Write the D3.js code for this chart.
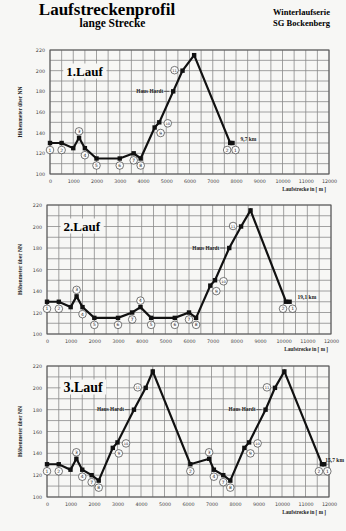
<!DOCTYPE html>
<html><head><meta charset="utf-8">
<script src="https://cdn.jsdelivr.net/npm/d3@7"></script>
<style>body{margin:0;background:#f7f7f5}svg{display:block}</style>
</head><body><svg id="c" width="346" height="531"></svg>
<script>
// ---- data ----
const xTicks = [0,1000,2000,3000,4000,5000,6000,7000,8000,9000,10000,11000,12000];
const yTicks = [100,120,140,160,180,200,220];
const runNames = ["1.Lauf","2.Lauf","3.Lauf"];
const endLabels = ["9,7 km","19,1 km","15,7 km"];

const run1Dist = [0,500,1000,1250,1500,2000,3000,3600,3900,4500,4700,5300,5700,6200,7750,7850];
const run1Elev = [130,130,125,135,125,115,115,120,115,145,150,180,200,215,130,130];
const run1Labels = [[0,"1","b"],[1,"2","b"],[3,"3","a"],[4,"4","b"],[5,"5","b"],[6,"6","b"],[7,"7","b"],[8,"8","b"],[9,"9","br"],[10,"10","r"],[12,"11","l"],[14,"2","bl"],[15,"1","bR"]];
const run1Hardt = [11];

const run2Dist = [0,500,1000,1250,1500,2000,3000,3600,3950,4400,5400,6000,6300,6900,7100,7700,8200,8600,10100,10250];
const run2Elev = [130,130,125,135,125,115,115,120,125,115,115,120,115,145,150,180,200,215,130,130];
const run2Labels = [[0,"1","b"],[1,"2","b"],[3,"3","a"],[4,"4","b"],[5,"5","b"],[6,"6","b"],[7,"7","b"],[8,"4","a"],[9,"5","b"],[10,"6","b"],[11,"7","b"],[12,"8","b"],[13,"9","br"],[14,"10","r"],[16,"11","l"],[18,"2","bl"],[19,"1","bR"]];
const run2Hardt = [15];

const run3Dist = [0,500,1000,1250,1500,1900,2200,2800,3000,3700,4200,4500,6100,6900,7100,7500,7800,8400,8600,9300,9700,10100,11700,11800];
const run3Elev = [130,130,125,135,125,120,115,145,150,180,200,215,130,135,125,120,115,145,150,180,200,215,130,130];
const run3Labels = [[0,"1","b"],[1,"2","b"],[3,"3","a"],[4,"4","b"],[5,"7","b"],[6,"8","b"],[7,"9","br"],[8,"10","r"],[10,"11","l"],[12,"2","b"],[13,"3","a"],[14,"4","b"],[15,"7","b"],[16,"8","b"],[17,"9","br"],[18,"10","r"],[20,"11","l"],[22,"2","bl"],[23,"1","bR"]];
const run3Hardt = [9,19];

// ---- layout ----
const runs = [
  {dist:run1Dist, elev:run1Elev, labels:run1Labels, hardt:run1Hardt},
  {dist:run2Dist, elev:run2Elev, labels:run2Labels, hardt:run2Hardt},
  {dist:run3Dist, elev:run3Elev, labels:run3Labels, hardt:run3Hardt}
];
const boxes = [{l:50,r:329,t:50,b:174,ts:13},{l:47,r:331,t:205,b:334,ts:13},{l:47,r:329,t:366,b:497,ts:14}];
const off = {b:[0,7],a:[0,-6.5],r:[8.5,1],l:[-8,-0.5],br:[6,5.5],bl:[-3,7],bR:[3,7]};
const BG = "#f7f7f5";
const serif = "'Liberation Serif','Times New Roman',serif";
const sans = "'DejaVu Sans',sans-serif";

const svg = d3.select("#c");
svg.append("rect").attr("width",346).attr("height",531).attr("fill",BG);

// header
svg.append("text").attr("x",107).attr("y",14.5).attr("text-anchor","middle")
  .attr("font-family",serif).attr("font-weight","bold").attr("font-size",17).text("Laufstreckenprofil");
svg.append("text").attr("x",112.5).attr("y",27).attr("text-anchor","middle")
  .attr("font-family",serif).attr("font-weight","bold").attr("font-size",11.5).text("lange Strecke");
svg.append("text").attr("x",301.5).attr("y",14.5).attr("text-anchor","middle")
  .attr("font-family",serif).attr("font-weight","bold").attr("font-size",8.5).text("Winterlaufserie");
svg.append("text").attr("x",301.5).attr("y",26).attr("text-anchor","middle")
  .attr("font-family",serif).attr("font-weight","bold").attr("font-size",8.5).text("SG Bockenberg");

runs.forEach((run,k)=>{
  const bx = boxes[k];
  const x = d3.scaleLinear().domain([0,12000]).range([bx.l,bx.r]);
  const y = d3.scaleLinear().domain([100,220]).range([bx.b,bx.t]);
  const g = svg.append("g");

  // grid
  const gx = d3.range(0,12001,500), gy = d3.range(100,221,10);
  g.selectAll(".vg").data(gx).join("line")
    .attr("x1",d=>x(d)).attr("x2",d=>x(d)).attr("y1",bx.t).attr("y2",bx.b)
    .attr("stroke","#8a8a8a").attr("stroke-width",0.8);
  g.selectAll(".hg").data(gy).join("line")
    .attr("x1",bx.l).attr("x2",bx.r).attr("y1",d=>y(d)).attr("y2",d=>y(d))
    .attr("stroke","#8a8a8a").attr("stroke-width",0.8);
  g.append("rect").attr("x",bx.l).attr("y",bx.t).attr("width",bx.r-bx.l).attr("height",bx.b-bx.t)
    .attr("fill","none").attr("stroke","#555").attr("stroke-width",1);

  // axes (tick labels)
  const ax = g.append("g").attr("transform",`translate(0,${bx.b})`)
    .call(d3.axisBottom(x).tickValues(xTicks).tickSize(0).tickPadding(6).tickFormat(d3.format("d")));
  ax.select(".domain").remove();
  ax.selectAll("text").attr("font-family",sans).attr("font-size",4.8).attr("fill","#444");
  const ay = g.append("g").attr("transform",`translate(${bx.l},0)`)
    .call(d3.axisLeft(y).tickValues(yTicks).tickSize(0).tickPadding(5).tickFormat(d3.format("d")));
  ay.select(".domain").remove();
  ay.selectAll("text").attr("font-family",sans).attr("font-size",4.8).attr("fill","#444");

  // axis titles
  g.append("text").attr("transform",`translate(22,${(bx.t+bx.b)/2}) rotate(-90)`)
    .attr("text-anchor","middle").attr("font-family",serif).attr("font-weight","bold")
    .attr("font-size",5.5).attr("fill","#222").text("Höhenmeter über NN");
  g.append("text").attr("x",bx.r-3).attr("y",bx.b+17).attr("text-anchor","end")
    .attr("font-family",serif).attr("font-weight","bold").attr("font-size",5.2).attr("fill","#222")
    .text("Laufstrecke in [ m ]");

  // title with white box
  const tt = g.append("text").attr("x",x(700)).attr("y",bx.t+25.5)
    .attr("font-family",serif).attr("font-weight","bold").attr("font-size",bx.ts).text(runNames[k]);
  const bb = tt.node().getBBox();
  g.insert("rect", () => tt.node()).attr("x",bb.x-3).attr("y",bb.y).attr("width",bb.width+6).attr("height",bb.height)
    .attr("fill",BG);

  const pts = run.dist.map((d,i)=>({d, e:run.elev[i]}));
  // line
  g.append("path").datum(pts)
    .attr("d",d3.line().x(p=>x(p.d)).y(p=>y(p.e)))
    .attr("fill","none").attr("stroke","#111").attr("stroke-width",2.2).attr("stroke-linejoin","miter");
  // markers
  g.selectAll(".mk").data(pts).join("rect")
    .attr("x",p=>x(p.d)-2.2).attr("y",p=>y(p.e)-2.2).attr("width",4.4).attr("height",4.4).attr("fill","#111");

  // Haus Hardt
  run.hardt.forEach(i=>{
    const px = x(pts[i].d), py = y(pts[i].e);
    g.append("line").attr("x1",px-9).attr("x2",px-4).attr("y1",py).attr("y2",py).attr("stroke","#222").attr("stroke-width",0.6);
    g.append("text").attr("x",px-10).attr("y",py+1.8).attr("text-anchor","end")
      .attr("font-family",serif).attr("font-weight","bold").attr("font-size",5.3).attr("fill","#222").text("Haus Hardt");
  });

  // end distance label (kept inside the picture)
  const last = pts[pts.length-1];
  const lt = g.append("text").attr("x",x(last.d)+8).attr("y",y(last.e)-2.5)
    .attr("font-family",serif).attr("font-weight","bold").attr("font-size",5.5).attr("fill","#222").text(endLabels[k]);
  const lb = lt.node().getBBox();
  if (lb.x + lb.width > 344) { lt.attr("text-anchor","end").attr("x",344); }

  // numbered circle labels
  const lg = g.selectAll(".lb").data(run.labels).join("g")
    .attr("transform",l=>{const p=pts[l[0]]; const o=off[l[2]]; return `translate(${x(p.d)+o[0]},${y(p.e)+o[1]})`;});
  lg.append("circle").attr("r",3.8).attr("fill","#fbfbfb").attr("stroke","#222").attr("stroke-width",0.6);
  lg.append("text").attr("text-anchor","middle").attr("y",1.6)
    .attr("font-family",sans).attr("font-size",l=>l[1].length>1?3.6:4.4).attr("fill","#222").text(l=>l[1]);
});
</script></body></html>
